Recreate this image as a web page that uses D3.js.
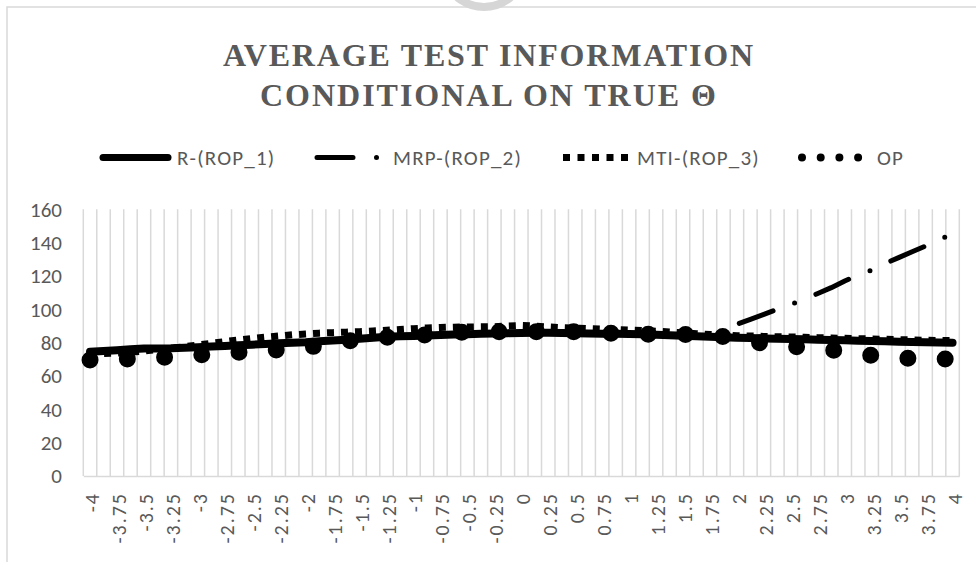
<!DOCTYPE html>
<html>
<head>
<meta charset="utf-8">
<script src="https://cdn.jsdelivr.net/npm/d3@7"></script>
<style>
	body { margin: 0; background: #fff; }
	text { font-family: Carlito, Lato, sans-serif; fill: #595959; }
</style>
</head>
<body>
<div id="chart"></div>
<script>
var theta = [-4,-3.875,-3.75,-3.625,-3.5,-3.375,-3.25,-3.125,-3,-2.875,-2.75,-2.625,-2.5,-2.375,-2.25,-2.125,-2,-1.875,-1.75,-1.625,-1.5,-1.375,-1.25,-1.125,-1,-0.875,-0.75,-0.625,-0.5,-0.375,-0.25,-0.125,0,0.125,0.25,0.375,0.5,0.625,0.75,0.875,1,1.125,1.25,1.375,1.5,1.625,1.75,1.875,2,2.125,2.25,2.375,2.5,2.625,2.75,2.875,3,3.125,3.25,3.375,3.5,3.625,3.75,3.875,4];

var rop1 = [74.5,75,75.5,76,76.5,76.5,76.6,77,77.3,77.7,78,78.4,78.8,79.2,79.6,80,80.3,80.8,81.3,81.8,82.4,83,83.5,83.8,84,84.3,84.6,84.9,85.1,85.3,85.5,85.7,85.8,85.9,85.9,85.8,85.7,85.5,85.4,85.3,85.2,85,84.8,84.5,84.2,83.9,83.6,83.3,83,82.8,82.5,82.3,82.2,82,81.8,81.6,81.4,81.2,81,80.8,80.6,80.4,80.2,80.1,80];

var rop2 = [74.6,75.1,75.6,76.1,76.5,76.7,76.9,77.2,77.5,77.9,78.2,78.6,79,79.4,79.8,80.2,80.5,81,81.5,82,82.6,83.1,83.6,83.9,84.1,84.4,84.7,85,85.2,85.4,85.6,85.8,85.9,86,86,85.9,85.7,85.5,85.4,85.3,85.2,85,84.8,84.5,84.2,84,84.3,86.5,91,94,97,100,103,106,109.5,113,117,120.5,123.5,127.5,131,134.5,138,142,145];

var rop3 = [73.5,73.5,73.8,74.3,75,75.8,76.6,77.6,78.6,79.6,80.6,81.6,82.5,83.3,84,84.7,85.2,85.7,86,86.3,86.6,87,87.4,87.9,88.4,88.8,89.1,89.3,89.4,89.5,89.6,90,90.3,90,89.4,89,88.7,88.4,88.1,87.8,87.6,87.3,86.9,86.4,85.9,85.4,84.9,84.6,84.2,84,83.7,83.5,83.4,83.2,83,82.8,82.6,82.4,82.2,82,81.8,81.6,81.4,81.3,81.2];

var op = [69.6,69.8,70,70.2,70.6,71,71.4,72,72.6,73.2,73.7,74.2,74.7,75.2,75.7,76.5,77.2,78.2,79.5,80.8,81.8,82.5,83.2,83.7,84.2,84.7,85.3,86,86.4,86.5,86.5,86.5,86.6,86.6,86.7,86.7,86.6,86.2,85.8,85.5,85.2,85.1,85,85,85,84.7,84.2,83.6,82,80.8,79.5,78.6,77.9,77.2,76.4,75.6,74.5,73.4,72.4,71.7,71,70.5,70.3,70.2,70.2];

var yTicks = [0,20,40,60,80,100,120,140,160];
var xLabels = [-4,-3.75,-3.5,-3.25,-3,-2.75,-2.5,-2.25,-2,-1.75,-1.5,-1.25,-1,-0.75,-0.5,-0.25,0,0.25,0.5,0.75,1,1.25,1.5,1.75,2,2.25,2.5,2.75,3,3.25,3.5,3.75,4];
var seriesNames = ["R-(ROP_1)", "MRP-(ROP_2)", "MTI-(ROP_3)", "OP"];

var svg = d3.select("#chart")
	.append("svg")
	.attr("width", 976)
	.attr("height", 562);

// chart frame + the grey watermark bit at the top
svg.append("rect")
	.attr("x", 7).attr("y", 7)
	.attr("width", 1000).attr("height", 600)
	.attr("fill", "none")
	.attr("stroke", "#d9d9d9")
	.attr("stroke-width", 1.5);

svg.append("path")
	.attr("transform", "translate(484,-34)")
	.attr("d", d3.arc()({innerRadius: 37, outerRadius: 45, startAngle: Math.PI * 0.62, endAngle: Math.PI * 1.38}))
	.attr("fill", "#d6d6d6");

var x = d3.scaleBand()
	.domain(theta)
	.range([83.3, 959.3])
	.padding(0);
var cx = t => x(t) + x.bandwidth() / 2;

var y = d3.scaleLinear()
	.domain([0, 160])
	.range([476, 209.3]);

// vertical gridlines on category boundaries
var bounds = theta.map(t => x(t)).concat([x.range()[1]]);
svg.selectAll(".grid")
	.data(bounds)
	.enter()
	.append("line")
	.attr("class", "grid")
	.attr("x1", d => d).attr("x2", d => d)
	.attr("y1", y(160)).attr("y2", y(0))
	.attr("stroke", "#d9d9d9")
	.attr("stroke-width", 1.5);

// y axis labels
var yAxis = svg.append("g")
	.attr("transform", "translate(62,0)")
	.call(d3.axisLeft(y).tickValues(yTicks).tickSize(0).tickPadding(0));
yAxis.select(".domain").remove();
yAxis.selectAll("text")
	.attr("font-size", 21)
	.attr("font-family", null)
	.attr("fill", "#595959");

// x axis
var xAxis = svg.append("g")
	.attr("transform", "translate(0,476)")
	.call(d3.axisBottom(x).tickValues(theta.filter(t => xLabels.indexOf(t) >= 0)).tickSize(0).tickSizeOuter(0));
xAxis.select(".domain")
	.attr("stroke", "#d9d9d9")
	.attr("stroke-width", 1.5);
xAxis.selectAll("text")
	.text(d => String(d))
	.attr("font-size", 20)
	.attr("font-family", null)
	.attr("fill", "#595959")
	.attr("letter-spacing", 2)
	.attr("transform", "rotate(-90)")
	.attr("x", -16)
	.attr("y", 2)
	.attr("dy", "0.35em")
	.style("text-anchor", "end");

var line = d3.line()
	.x((d, i) => cx(theta[i]))
	.y(d => y(d));

svg.append("path")
	.attr("d", line(rop1))
	.attr("fill", "none")
	.attr("stroke", "#000")
	.attr("stroke-width", 8)
	.attr("stroke-linecap", "round")
	.attr("stroke-linejoin", "round");

// long dash dot, phase lined up so a dash starts at theta = 2
var mrp = svg.append("path")
	.attr("d", line(rop2))
	.attr("fill", "none")
	.attr("stroke", "#000")
	.attr("stroke-width", 5)
	.attr("stroke-linecap", "round")
	.attr("stroke-linejoin", "round")
	.attr("stroke-dasharray", "36 23 0 23");
var tmp = svg.append("path").attr("d", line(rop2.slice(0, 49)));
var L = tmp.node().getTotalLength();
tmp.remove();
mrp.attr("stroke-dashoffset", -(L + 2.5));

svg.append("path")
	.attr("d", line(rop3))
	.attr("fill", "none")
	.attr("stroke", "#000")
	.attr("stroke-width", 7)
	.attr("stroke-dasharray", "7 7");

svg.append("path")
	.attr("d", line(op))
	.attr("fill", "none")
	.attr("stroke", "#000")
	.attr("stroke-width", 17)
	.attr("stroke-linecap", "round")
	.attr("stroke-dasharray", "0 37.3");

// title
svg.append("text")
	.attr("x", 488).attr("y", 66)
	.attr("textLength", 530)
	.attr("lengthAdjust", "spacing")
	.style("text-anchor", "middle")
	.style("font-family", "'Liberation Serif', serif")
	.style("font-weight", "bold")
	.style("font-size", "32px")
	.text("AVERAGE TEST INFORMATION");
svg.append("text")
	.attr("x", 488).attr("y", 106)
	.attr("textLength", 456)
	.attr("lengthAdjust", "spacing")
	.style("text-anchor", "middle")
	.style("font-family", "'Liberation Serif', serif")
	.style("font-weight", "bold")
	.style("font-size", "32px")
	.text("CONDITIONAL ON TRUE Θ");

// legend
var ly = 157.5;
svg.append("line")
	.attr("x1", 103).attr("x2", 168).attr("y1", ly).attr("y2", ly)
	.attr("stroke", "#000").attr("stroke-width", 7).attr("stroke-linecap", "round");
svg.append("line")
	.attr("x1", 317).attr("x2", 380).attr("y1", ly).attr("y2", ly)
	.attr("stroke", "#000").attr("stroke-width", 5).attr("stroke-linecap", "round")
	.attr("stroke-dasharray", "36 23.5 0 100");
svg.append("line")
	.attr("x1", 563).attr("x2", 628).attr("y1", ly).attr("y2", ly)
	.attr("stroke", "#000").attr("stroke-width", 7)
	.attr("stroke-dasharray", "7 7.5");
svg.append("line")
	.attr("x1", 802).attr("x2", 860).attr("y1", ly).attr("y2", ly)
	.attr("stroke", "#000").attr("stroke-width", 8).attr("stroke-linecap", "round")
	.attr("stroke-dasharray", "0 18.7");

svg.selectAll(".legtext")
	.data(seriesNames)
	.enter()
	.append("text")
	.attr("class", "legtext")
	.attr("x", (d, i) => [177, 393, 637, 877][i])
	.attr("y", ly)
	.attr("dy", "0.35em")
	.attr("letter-spacing", 1.2)
	.style("font-size", "21px")
	.text(d => d);
</script>
</body>
</html>
